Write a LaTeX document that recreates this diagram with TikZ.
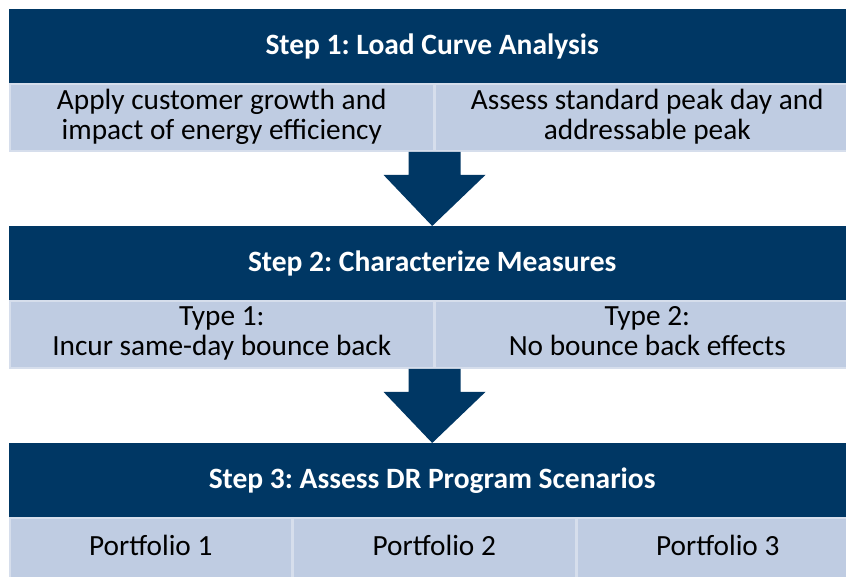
\documentclass[tikz,border=0pt]{standalone}
\usepackage{fontspec}
\setmainfont{Carlito}
\frenchspacing
\usetikzlibrary{positioning,calc}
\definecolor{stepnavy}{RGB}{0,55,100}
\definecolor{celllight}{RGB}{191,204,226}
\definecolor{cellrule}{RGB}{214,222,236}
\tikzset{
  banner/.style={fill=stepnavy,text=white,inner sep=0pt,
    font=\fontsize{29.5}{32}\selectfont\bfseries,
    minimum width=846pt,minimum height=74pt,anchor=north west},
  cell/.style={fill=celllight,draw=cellrule,line width=1.5pt,inner sep=0pt,
    align=center,font=\fontsize{29.3}{30}\selectfont,
    execute at end node={\rule[-0.24em]{0pt}{0pt}},minimum height=67pt},
}
\begin{document}
\begin{tikzpicture}[x=1pt,y=-1pt]
\clip(0,0)rectangle(846,577);
\fill[white](0,0)rectangle(846,577);
% step 1
\node[banner](stepA)at(9,9){Step 1: Load Curve Analysis};
\node[cell,minimum width=424pt,anchor=north west](growth)at(stepA.south west)
  {Apply customer growth and\\impact of energy efficiency};
\node[cell,minimum width=424pt,right=0pt of growth](peak)
  {Assess standard peak day and\\addressable peak};
% step 2
\node[banner](stepB)at(9,226){Step 2: Characterize Measures};
\node[cell,minimum width=424pt,anchor=north west](typeA)at(stepB.south west)
  {Type 1:\\Incur same-day bounce back};
\node[cell,minimum width=424pt,right=0pt of typeA](typeB)
  {Type 2:\\No bounce back effects};
% step 3
\node[banner](stepC)at(9,443){Step 3: Assess DR Program Scenarios};
\node[cell,minimum width=282pt,minimum height=62pt,anchor=north west](portA)
  at(stepC.south west){Portfolio 1};
\node[cell,minimum width=282pt,minimum height=62pt,right=0pt of portA](portB){Portfolio 2};
\node[cell,minimum width=282pt,minimum height=62pt,right=0pt of portB](portC){Portfolio 3};
% block arrows between the steps
\foreach \a/\b in {growth/stepB,typeA/stepC}
  \fill[stepnavy]($(\a.south east)+(-26,0)$)--($(\a.south east)+(-26,23)$)
    --($(\a.south east)+(-51,23)$)--(\b.north)--($(\a.south east)+(51,23)$)
    --($(\a.south east)+(26,23)$)--($(\a.south east)+(26,0)$)--cycle;
\end{tikzpicture}
\end{document}
